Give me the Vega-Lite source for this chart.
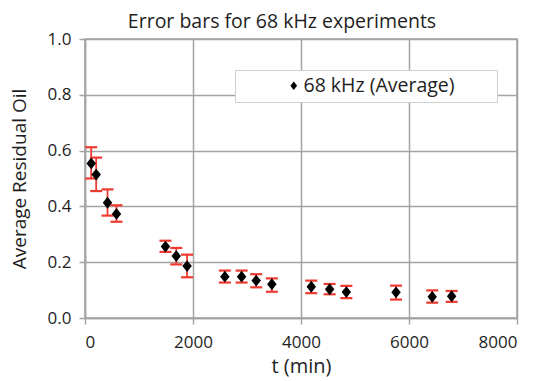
{
  "$schema": "https://vega.github.io/schema/vega-lite/v6.json",
  "autosize": "none",
  "width": 432,
  "height": 279,
  "padding": {"left": 85, "top": 39, "right": 25, "bottom": 63},
  "background": "white",
  "config": {
    "font": "Open Sans",
    "view": {"stroke": "#a3a3a3", "strokeWidth": 1.5},
    "axis": {
      "grid": true,
      "gridColor": "#a3a3a3",
      "gridWidth": 1.5,
      "domainColor": "#a3a3a3",
      "domainWidth": 1.5,
      "tickColor": "#a3a3a3",
      "tickWidth": 1.5,
      "tickSize": 6,
      "labelFont": "Open Sans",
      "labelFontSize": 17,
      "labelColor": "#1e1e1e",
      "titleFont": "Open Sans",
      "titleFontSize": 19,
      "titleFontWeight": "normal",
      "titleColor": "#1e1e1e"
    }
  },
  "title": {
    "text": "Error bars for 68 kHz experiments",
    "font": "Open Sans",
    "fontSize": 19.5,
    "fontWeight": "normal",
    "color": "#1e1e1e",
    "anchor": "middle",
    "frame": "group",
    "baseline": "bottom",
    "offset": 0,
    "dx": -19,
    "dy": 21
  },
  "data": {
    "values": [
      {"t": 115, "avg": 0.554, "lo": 0.500, "hi": 0.612},
      {"t": 207, "avg": 0.514, "lo": 0.455, "hi": 0.575},
      {"t": 417, "avg": 0.413, "lo": 0.367, "hi": 0.461},
      {"t": 583, "avg": 0.373, "lo": 0.345, "hi": 0.404},
      {"t": 1490, "avg": 0.256, "lo": 0.237, "hi": 0.277},
      {"t": 1690, "avg": 0.222, "lo": 0.192, "hi": 0.251},
      {"t": 1890, "avg": 0.186, "lo": 0.146, "hi": 0.227},
      {"t": 2590, "avg": 0.148, "lo": 0.127, "hi": 0.170},
      {"t": 2900, "avg": 0.148, "lo": 0.127, "hi": 0.170},
      {"t": 3170, "avg": 0.134, "lo": 0.110, "hi": 0.157},
      {"t": 3460, "avg": 0.121, "lo": 0.094, "hi": 0.142},
      {"t": 4190, "avg": 0.112, "lo": 0.089, "hi": 0.134},
      {"t": 4530, "avg": 0.103, "lo": 0.085, "hi": 0.122},
      {"t": 4840, "avg": 0.093, "lo": 0.071, "hi": 0.115},
      {"t": 5760, "avg": 0.092, "lo": 0.066, "hi": 0.116},
      {"t": 6430, "avg": 0.076, "lo": 0.055, "hi": 0.099},
      {"t": 6790, "avg": 0.078, "lo": 0.058, "hi": 0.097}
    ]
  },
  "encoding": {
    "x": {
      "field": "t",
      "type": "quantitative",
      "scale": {"domain": [0, 8000], "nice": false},
      "axis": {
        "title": "t (min)",
        "titleFontSize": 20,
        "values": [0, 2000, 4000, 6000, 8000],
        "format": "d",
        "labelPadding": 10,
        "titlePadding": 6
      }
    }
  },
  "layer": [
    {
      "mark": {"type": "rule", "color": "#ee3a30", "strokeWidth": 1.8},
      "encoding": {
        "y": {
          "field": "lo",
          "type": "quantitative",
          "scale": {"domain": [0, 1], "nice": false},
          "axis": {
            "title": "Average Residual Oil",
            "values": [0, 0.2, 0.4, 0.6, 0.8, 1.0],
            "format": ".1f",
            "labelPadding": 8,
            "titlePadding": 18
          }
        },
        "y2": {"field": "hi"}
      }
    },
    {
      "mark": {"type": "tick", "orient": "horizontal", "color": "#ee3a30", "size": 12, "thickness": 2.2, "opacity": 1},
      "encoding": {"y": {"field": "lo", "type": "quantitative"}}
    },
    {
      "mark": {"type": "tick", "orient": "horizontal", "color": "#ee3a30", "size": 12, "thickness": 2.2, "opacity": 1},
      "encoding": {"y": {"field": "hi", "type": "quantitative"}}
    },
    {
      "mark": {
        "type": "point",
        "filled": true,
        "opacity": 1,
        "size": 140,
        "shape": "M-0.8,0L0,-1L0.8,0L0,1Z"
      },
      "encoding": {
        "y": {"field": "avg", "type": "quantitative"},
        "color": {
          "datum": "68 kHz (Average)",
          "type": "nominal",
          "scale": {"range": ["#000000"]},
          "legend": {
            "title": null,
            "orient": "none",
            "legendX": 150,
            "legendY": 31,
            "fillColor": "white",
            "strokeColor": "#cfcfcf",
            "padding": 6,
            "symbolType": "M-0.8,0L0,-1L0.8,0L0,1Z",
            "symbolSize": 70,
            "symbolOffset": 43,
            "labelOffset": 0,
            "labelLimit": 400,
            "labelExpr": "datum.label + '\u00a0\u00a0\u00a0\u00a0\u00a0\u00a0\u00a0\u200b'",
            "labelFont": "Open Sans",
            "labelFontSize": 19.5,
            "labelColor": "#1e1e1e"
          }
        }
      }
    }
  ]
}
